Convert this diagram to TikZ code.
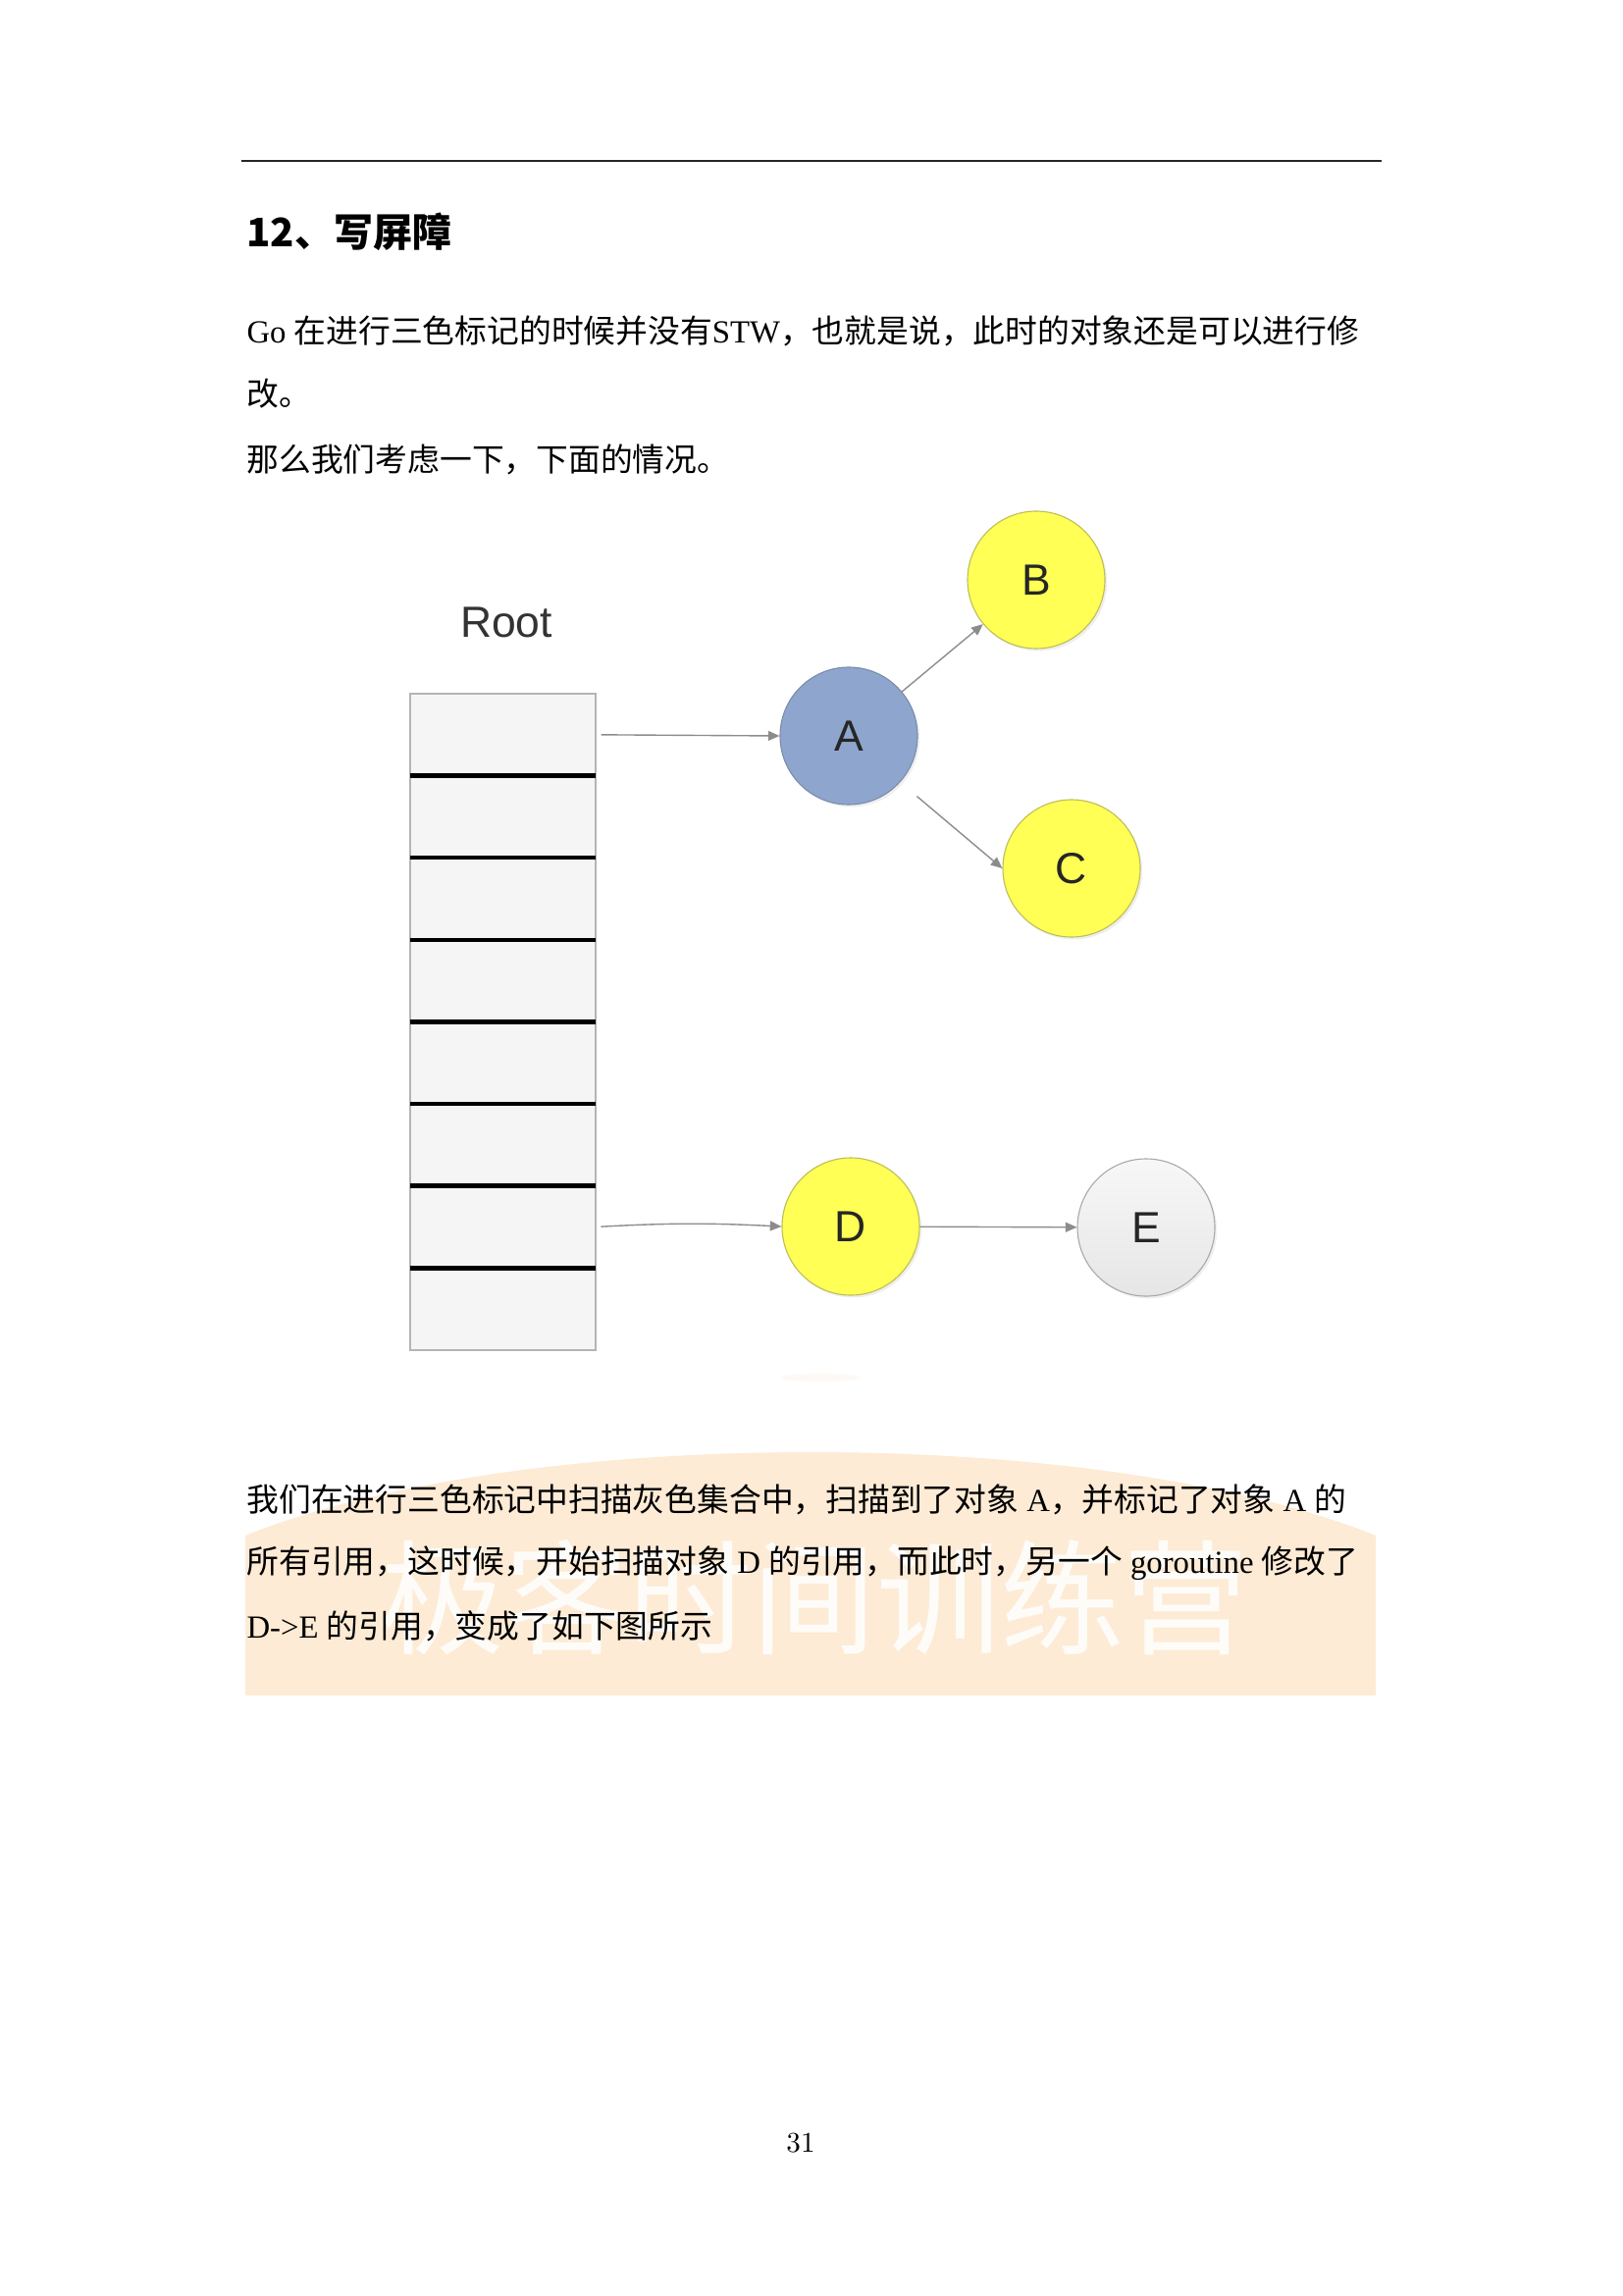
\documentclass[tikz,border=0pt]{standalone}
\usepackage{fontspec}
\newfontfamily\cjk{Noto Sans CJK SC}
\newfontfamily\tnr{Liberation Serif}
\newfontfamily\arial{Liberation Sans}
\usetikzlibrary{positioning,arrows.meta,shadows}
\newcommand{\zh}[1]{{\cjk#1}}

\definecolor{objblue}{RGB}{142,166,206}
\definecolor{objblueline}{RGB}{122,140,172}
\definecolor{objyellow}{RGB}{255,255,85}
\definecolor{objyellowline}{RGB}{190,190,90}
\definecolor{objgray}{RGB}{242,242,242}
\definecolor{objgrayline}{RGB}{170,170,170}
\definecolor{cellfill}{RGB}{245,245,245}
\definecolor{cellline}{RGB}{180,180,180}
\definecolor{refgray}{RGB}{140,140,140}
\definecolor{wmpeach}{RGB}{253,235,213}

\tikzset{
  bodytext/.style={anchor=west, inner sep=0pt, font=\fontsize{11.8}{14}\selectfont\tnr},
  objnode/.style={circle, minimum size=50.4pt, inner sep=0pt, line width=0.4pt,
    font=\fontsize{16}{16}\selectfont\arial, text=black!85,
    drop shadow={opacity=0.12, shadow xshift=0.8pt, shadow yshift=-0.9pt}},
  cellbox/.style={rectangle, draw=cellline, fill=cellfill, line width=0.5pt,
    minimum width=68pt, minimum height=30.1pt, inner sep=0pt, outer sep=0pt},
  sepline/.style={line width=1.6pt, black},
  refarrow/.style={draw=refgray, line width=0.5pt, -{Triangle[length=4.2pt,width=3.6pt]}}
}

\begin{document}
\begin{tikzpicture}[x=0.36pt, y=-0.36pt]
    \useasboundingbox[fill=white] (0,0) rectangle (1653,2340);

    % Header rule and title
    \draw[line width=0.8pt, black!85] (246,164) -- (1408,164);
    \node[anchor=west, inner sep=0pt, font=\fontsize{14.4}{16}\selectfont\cjk\bfseries] (title) at (251,236) {12、写屏障};

    % First paragraph
    \node[bodytext] (para1a) at (251,337) {Go \zh{在进行三色标记的时候并没有}STW\zh{，也就是说，此时的对象还是可以进行修}};
    \node[bodytext] (para1b) at (251,401) {\zh{改。}};
    \node[bodytext] (para1c) at (251,468) {\zh{那么我们考虑一下，下面的情况。}};

    % Root set: stack of cells
    \node[font=\fontsize{16}{16}\selectfont\arial, text=black!80] (root) at (516,634) {Root};
    \node[cellbox] (cell1) at (512.5,748.8) {};
    \foreach \i [count=\j from 2] in {1,...,7} {
      \node[cellbox, below=0pt of cell\i] (cell\j) {};
    }
    \foreach \i in {1,...,7} {
      \draw[sepline] (cell\i.south west) -- (cell\i.south east);
    }

    % Objects
    \node[objnode, draw=objblueline, fill=objblue] (A) at (865,750) {A};
    \node[objnode, draw=objyellowline, fill=objyellow] (B) at (1056,591) {B};
    \node[objnode, draw=objyellowline, fill=objyellow] (C) at (1092,885) {C};
    \node[objnode, draw=objyellowline, fill=objyellow] (D) at (867,1250) {D};
    \node[objnode, draw=objgrayline, top color=objgray!60, bottom color=objgray!95!black] (E) at (1168,1251) {E};

    % References
    \draw[refarrow, shorten <=2pt] (cell1.east) -- (A.west);
    \draw[refarrow] (A) -- (B);
    \draw[refarrow, shorten <=8pt] (A.-42) -- (C.west);
    \draw[refarrow, shorten <=2pt] (cell7.east) to[bend left=3] (D.west);
    \draw[refarrow] (D) -- (E);

    % Watermark
    \fill[wmpeach, opacity=0.25] (836,1404) ellipse [x radius=40, y radius=4];
    \begin{scope}
      \clip (250,1400) rectangle (1402,1727);
      \fill[wmpeach] (826,1677) ellipse [x radius=700, y radius=197];
    \end{scope}
    \node[text=white, opacity=0.85, inner sep=0pt, font=\fontsize{45.5}{46}\selectfont\cjk] (mark) at (830,1628) {极客时间训练营};

    % Second paragraph
    \node[bodytext] (para2a) at (251,1528) {\zh{我们在进行三色标记中扫描灰色集合中，扫描到了对象} A\zh{，并标记了对象} A \zh{的}};
    \node[bodytext] (para2b) at (251,1593) {\zh{所有引用，这时候，开始扫描对象} D \zh{的引用，而此时，另一个} goroutine \zh{修改了}};
    \node[bodytext] (para2c) at (251,1657) {D->E \zh{的引用，变成了如下图所示}};

    % Page number
    \node[font=\fontsize{10.5}{12}\selectfont] (page) at (816,2184) {31};
\end{tikzpicture}
\end{document}
